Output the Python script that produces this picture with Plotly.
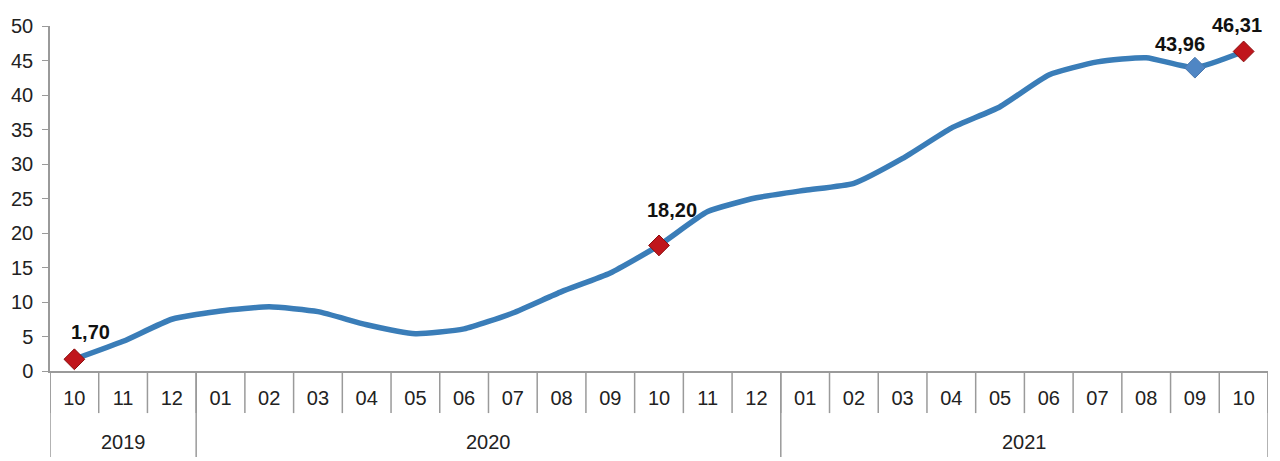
import plotly.graph_objects as go

years = ["2019"] * 3 + ["2020"] * 12 + ["2021"] * 10
months = ["10", "11", "12",
          "01", "02", "03", "04", "05", "06", "07", "08", "09", "10", "11", "12",
          "01", "02", "03", "04", "05", "06", "07", "08", "09", "10"]
values = [1.70, 4.3, 7.5,
          8.7, 9.3, 8.6, 6.7, 5.4, 6.1, 8.4, 11.5, 14.2, 18.20, 23.1, 25.1,
          26.2, 27.2, 30.8, 35.2, 38.3, 42.9, 44.8, 45.4, 43.96, 46.31]

# highlighted points
red_idx = [0, 12, 24]
blue_idx = [23]
label_idx = [0, 12, 23, 24]
label_dx = [16, 13, -15, -7]
label_dy = [27, 35, 24, 26]

line_color = "#3A7DB8"
red = "#C0161C"
blue_marker = "#4F86C4"
axis_grey = "#9A9A9A"
FONT = "Liberation Sans, Arial, sans-serif"

keys = [f"{y}-{m}" for y, m in zip(years, months)]
n = len(keys)

fig = go.Figure()
fig.add_trace(go.Scatter(
    x=keys, y=values, mode="lines",
    line=dict(color=line_color, width=5.5, shape="spline", smoothing=0.5),
    hoverinfo="skip", showlegend=False))

fig.add_trace(go.Scatter(
    x=[keys[i] for i in red_idx], y=[values[i] for i in red_idx], mode="markers",
    marker=dict(symbol="diamond", size=16, color=red,
                line=dict(color="#8B1010", width=1)),
    showlegend=False))
fig.add_trace(go.Scatter(
    x=[keys[i] for i in blue_idx], y=[values[i] for i in blue_idx], mode="markers",
    marker=dict(symbol="diamond", size=16, color=blue_marker,
                line=dict(color="#4A78AE", width=1)),
    showlegend=False))

for i, dx, dy in zip(label_idx, label_dx, label_dy):
    fig.add_annotation(
        x=keys[i], y=values[i], xref="x", yref="y",
        text="<b>" + f"{values[i]:.2f}".replace(".", ",") + "</b>",
        showarrow=False, xshift=dx, yshift=dy,
        font=dict(family=FONT, size=20, color="#111111"),
        xanchor="center", yanchor="middle")

# second level (years): group spans computed from the years list
groups = []
start = 0
for i in range(1, n + 1):
    if i == n or years[i] != years[start]:
        groups.append((years[start], start, i - 1))
        start = i

for name, s, e in groups:
    fig.add_annotation(
        x=(s + e) / 2, y=-0.206, xref="x", yref="paper",
        text=name, showarrow=False,
        font=dict(family=FONT, size=20, color="#222222"),
        xanchor="center", yanchor="middle")

# month boundary lines
for b in range(n + 1):
    fig.add_shape(type="line", xref="x", yref="paper",
                  x0=b - 0.5, x1=b - 0.5, y0=0, y1=-0.122,
                  line=dict(color=axis_grey, width=1.5), layer="above")
# year dividers
bounds = [groups[0][1]] + [g[2] + 1 for g in groups]
for b in bounds:
    fig.add_shape(type="line", xref="x", yref="paper",
                  x0=b - 0.5, x1=b - 0.5, y0=0, y1=-0.249,
                  line=dict(color=axis_grey, width=1.5), layer="above")

# page body has an 8px default margin, so the figure is sized to fit the window
fig.update_layout(
    width=1272, height=453,
    margin=dict(l=42, r=12, t=18, b=90),
    paper_bgcolor="white", plot_bgcolor="white",
    font=dict(family=FONT, size=20, color="#222222"),
)
fig.update_xaxes(
    type="category", range=[-0.5, n - 0.5], automargin=False,
    tickvals=keys, ticktext=months,
    showline=True, linecolor=axis_grey, linewidth=1.5,
    ticks="outside", ticklen=8, tickcolor="rgba(0,0,0,0)",
    showgrid=False, zeroline=False,
    tickfont=dict(family=FONT, size=20, color="#222222"))
fig.update_yaxes(
    range=[0, 50], dtick=5, tick0=0, automargin=False,
    showline=True, linecolor=axis_grey, linewidth=1.5,
    ticks="outside", ticklen=6, tickcolor=axis_grey,
    ticklabelstandoff=5,
    showgrid=False, zeroline=False,
    tickfont=dict(family=FONT, size=20, color="#222222"))

fig.write_html("out.html")
